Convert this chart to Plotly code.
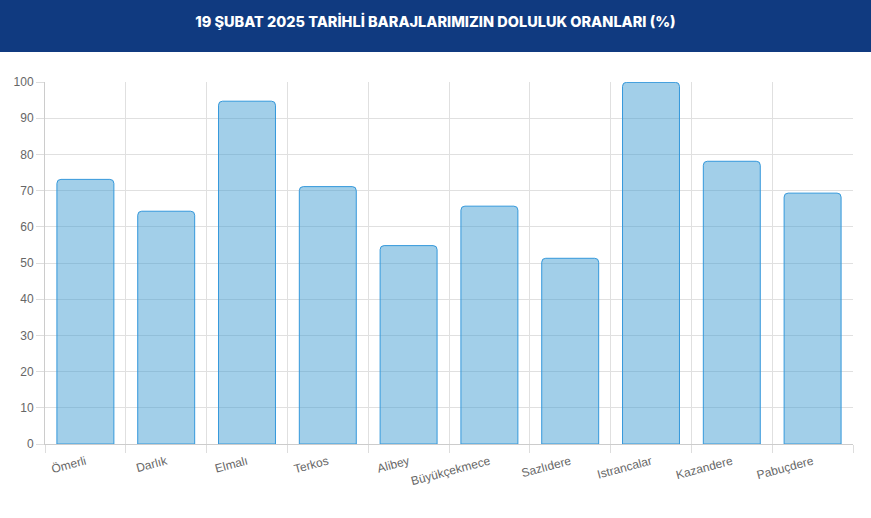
import plotly.graph_objects as go

# baraj doluluk oranlari, 19 Subat 2025
barajlar = ['Ömerli', 'Darlık', 'Elmalı', 'Terkos', 'Alibey', 'Büyükçekmece',
            'Sazlıdere', 'Istrancalar', 'Kazandere', 'Pabuçdere']
oranlar = [73.1, 64.3, 94.7, 71.1, 54.8, 65.7, 51.3, 99.9, 78.1, 69.3]

y_ticks = list(range(0, 101, 10))

fig = go.Figure(go.Bar(
    x=barajlar,
    y=oranlar,
    marker=dict(color='rgba(60,155,210,0.48)',
                line=dict(color='#3498db', width=1),
                cornerradius=4),
    hovertemplate='%{x}: %{y}<extra></extra>',
))

# koyu mavi baslik bandi
fig.add_shape(type='rect', xref='paper', yref='paper',
              x0=-45/808, x1=1+18/808, y0=(444-52)/362, y1=444/362,
              fillcolor='#103a80', line_width=0, layer='below')

fig.update_layout(
    title=dict(text='19 ŞUBAT 2025 TARİHLİ BARAJLARIMIZIN DOLULUK ORANLARI (%)',
               x=0.5, xanchor='center', y=1-22/518, yanchor='middle',
               font=dict(family='Inter', size=14.5, color='white', weight=800)),
    width=871, height=518,
    margin=dict(l=45, r=18, t=82, b=74),
    paper_bgcolor='white',
    plot_bgcolor='white',
    bargap=0.295,
    showlegend=False,
    font=dict(family='Liberation Sans, Arial', size=12, color='#666'),
)

fig.update_xaxes(tickson='boundaries', ticks='outside', ticklen=8, tickcolor='#dddddd',
                 showgrid=True, gridcolor='#e0e0e0', tickangle=-15,
                 ticklabelstandoff=5,
                 showline=True, linecolor='#cccccc', linewidth=1,
                 tickfont=dict(size=12, color='#666'))
fig.update_yaxes(range=[0, 100], tickvals=y_ticks, ticks='outside', ticklen=8,
                 tickcolor='#dddddd', gridcolor='#e0e0e0', zeroline=False,
                 showline=True, linecolor='#cccccc', linewidth=1,
                 tickfont=dict(size=12, color='#666'))

# sayfa kenar boslugunu kaldir
fig.write_html('out.html', config={'displayModeBar': False},
               post_script="document.body.style.margin='0';")
